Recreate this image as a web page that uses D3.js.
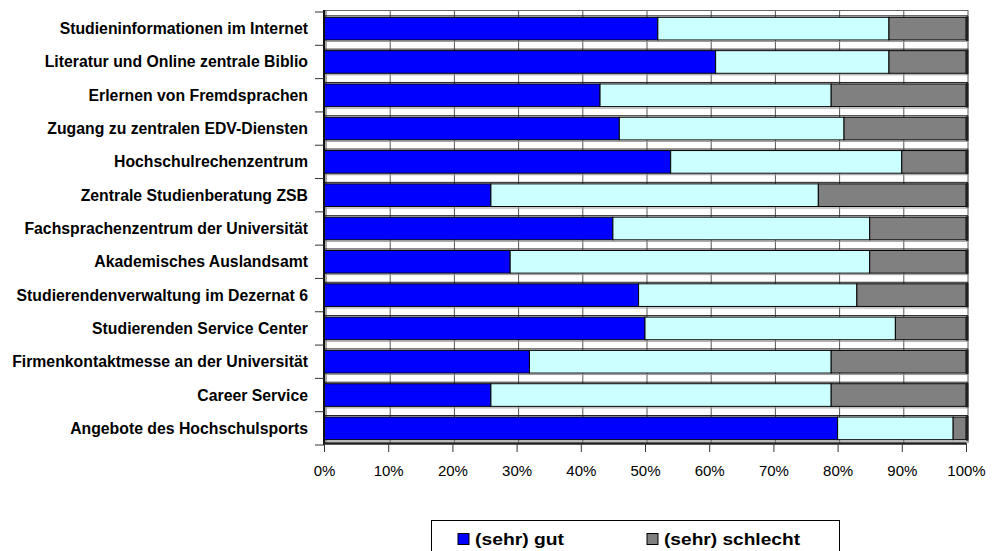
<!DOCTYPE html>
<html><head><meta charset="utf-8">
<script src="https://cdn.jsdelivr.net/npm/d3@7"></script>
<style>body{margin:0;background:#fff}svg{display:block}</style>
</head><body>
<svg id="c" width="992" height="551"></svg>
<script>
const categories = [
  "Studieninformationen im Internet",
  "Literatur und Online zentrale Biblio",
  "Erlernen von Fremdsprachen",
  "Zugang zu zentralen EDV-Diensten",
  "Hochschulrechenzentrum",
  "Zentrale Studienberatung ZSB",
  "Fachsprachenzentrum der Universität",
  "Akademisches Auslandsamt",
  "Studierendenverwaltung im Dezernat 6",
  "Studierenden Service Center",
  "Firmenkontaktmesse an der Universität",
  "Career Service",
  "Angebote des Hochschulsports"
];
const seriesNames = ["(sehr) gut", "teils/teils", "(sehr) schlecht"];
const gut      = [52, 61, 43, 46, 54, 26, 45, 29, 49, 50, 32, 26, 80];
const teils    = [36, 27, 36, 35, 36, 51, 40, 56, 34, 39, 47, 53, 18];
const schlecht = [12, 12, 21, 19, 10, 23, 15, 15, 17, 11, 21, 21, 2];
const tickValues = [0, 0.1, 0.2, 0.3, 0.4, 0.5, 0.6, 0.7, 0.8, 0.9, 1.0];
const legendNames = ["(sehr) gut", "(sehr) schlecht"];
const colors = {"(sehr) gut": "#0000FF", "teils/teils": "#CCFFFF", "(sehr) schlecht": "#808080"};

const svg = d3.select("#c");
const x = d3.scaleLinear().domain([0, 1]).range([324, 966]);
const y = d3.scaleBand().domain(categories).range([10, 443]).paddingInner(0.32).paddingOuter(0.16);
const depth = 2;
const FONT = "Liberation Sans, Arial, sans-serif";

const rows = categories.map((c, i) => {
  const tot = gut[i] + teils[i] + schlecht[i];
  return {cat: c, vals: [gut[i] / tot, teils[i] / tot, schlecht[i] / tot]};
});

// back wall gridlines (offset for 3D)
svg.append("g").selectAll("line").data(tickValues).join("line")
  .attr("x1", d => x(d) + depth).attr("x2", d => x(d) + depth)
  .attr("y1", 10).attr("y2", 443)
  .attr("stroke", "#555").attr("stroke-width", 1);
svg.append("line").attr("x1", x(0)).attr("x2", x(1) + depth).attr("y1", 10.5).attr("y2", 10.5)
  .attr("stroke", "#666");

// gap lines (3D edges)
const gapG = svg.append("g");
categories.forEach(c => {
  const top = y(c) + depth;
  gapG.append("line").attr("x1", x(0)).attr("x2", x(1) + depth)
    .attr("y1", top - 1.5).attr("y2", top - 1.5).attr("stroke", "#222").attr("stroke-width", 1);
  gapG.append("line").attr("x1", x(0)).attr("x2", x(1) + depth)
    .attr("y1", top + y.bandwidth() + 1.5).attr("y2", top + y.bandwidth() + 1.5).attr("stroke", "#999").attr("stroke-width", 1);
});

// bars
const barG = svg.append("g");
rows.forEach(r => {
  let acc = 0;
  r.vals.forEach((v, k) => {
    barG.append("rect")
      .attr("x", x(acc)).attr("y", y(r.cat) + depth)
      .attr("width", x(acc + v) - x(acc)).attr("height", y.bandwidth())
      .attr("fill", colors[seriesNames[k]])
      .attr("stroke", "#000").attr("stroke-width", 1);
    acc += v;
  });
  barG.append("rect").attr("x", x(1)).attr("y", y(r.cat) + depth - 1)
    .attr("width", 2.5).attr("height", y.bandwidth() + 2).attr("fill", "#222");
});

// left axis
svg.append("line").attr("x1", x(0)).attr("x2", x(0)).attr("y1", 10).attr("y2", 445)
  .attr("stroke", "#111").attr("stroke-width", 2);
const catTicks = d3.range(categories.length + 1).map(i => 10 + i * y.step());
svg.append("g").selectAll("line").data(catTicks).join("line")
  .attr("x1", x(0) - 9).attr("x2", x(0)).attr("y1", d => d + 2).attr("y2", d => d + 2)
  .attr("stroke", "#333").attr("stroke-width", 1);

// category labels
svg.append("g").selectAll("text").data(categories).join("text")
  .attr("x", 308).attr("y", d => y(d) + depth + y.bandwidth() / 2)
  .attr("dy", "0.35em").attr("text-anchor", "end")
  .attr("font-family", FONT)
  .attr("font-weight", "bold").attr("font-size", 15.8).attr("fill", "#000")
  .text(d => d);

// bottom axis
const xAxis = d3.axisBottom(x).tickValues(tickValues).tickFormat(d3.format(".0%"))
  .tickSize(9).tickSizeOuter(0).tickPadding(13);
const ax = svg.append("g").attr("transform", "translate(0,443)").call(xAxis);
ax.select(".domain").attr("stroke", "#222").attr("stroke-width", 2.5);
ax.selectAll(".tick line").attr("stroke", "#333");
ax.selectAll("text").attr("font-family", FONT)
  .attr("font-size", 15).attr("fill", "#000");

// legend
const lg = svg.append("g");
lg.append("rect").attr("x", 431.5).attr("y", 520.5).attr("width", 408).attr("height", 45)
  .attr("fill", "#fff").attr("stroke", "#000");
const lx = [458, 647];
const lw = [89, 136];
legendNames.forEach((n, i) => {
  lg.append("rect").attr("x", lx[i]).attr("y", 533.5).attr("width", 11).attr("height", 11)
    .attr("fill", colors[n]).attr("stroke", "#000");
  lg.append("text").attr("x", lx[i] + 17).attr("y", 545)
    .attr("font-family", FONT)
    .attr("font-weight", "bold").attr("font-size", 16.5)
    .attr("textLength", lw[i]).attr("lengthAdjust", "spacingAndGlyphs").text(n);
});
</script>
</body></html>
